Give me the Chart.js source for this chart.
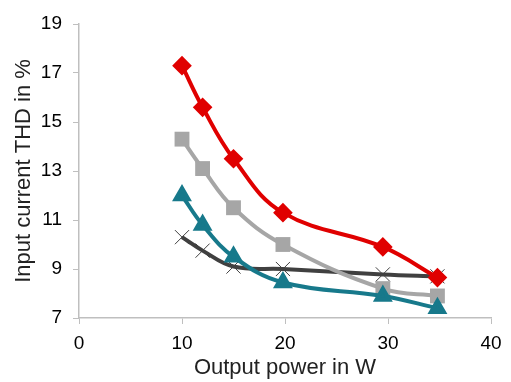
<!DOCTYPE html>
<html>
<head>
<meta charset="utf-8">
<script src="https://cdn.jsdelivr.net/npm/chart.js@4"></script>
<style>
  html, body { margin: 0; padding: 0; background: #fff; }
  #wrap { width: 511px; height: 382px; }
</style>
</head>
<body>
<div id="wrap"><canvas id="chart" width="511" height="382"></canvas></div>
<script>
// Output power (W) at each measurement point
const powerW = [10, 12, 15, 19.8, 29.5, 34.8];

// Input current THD (%) for each curve
const thdRed = [17.3, 15.6, 13.5, 11.3, 9.9, 8.65];
const thdGray = [14.3, 13.1, 11.5, 10.0, 8.2, 7.9];
const thdTeal = [12.0, 10.8, 9.5, 8.45, 7.9, 7.4];
const thdBlack = [10.3, 9.75, 9.1, 9.0, 8.78, 8.7];

const xTicks = [0, 10, 20, 30, 40];
const yTicks = [7, 9, 11, 13, 15, 17, 19];

const toPoints = (ys) => powerW.map((x, i) => ({ x, y: ys[i] }));

const axisColor = '#bfbfbf';
const tickFont = { family: 'Liberation Sans, Arial, sans-serif', size: 19 };
const titleFont = { family: 'Liberation Sans, Arial, sans-serif', size: 22 };

const ctx = document.getElementById('chart').getContext('2d');
new Chart(ctx, {
  type: 'line',
  data: {
    datasets: [
      {
        data: toPoints(thdRed),
        borderColor: '#e00000',
        backgroundColor: '#e00000',
        borderWidth: 4,
        pointStyle: 'rectRot',
        pointRadius: 7,
        tension: 0.4
      },
      {
        data: toPoints(thdTeal),
        borderColor: '#17798b',
        backgroundColor: '#17798b',
        borderWidth: 4,
        pointStyle: 'triangle',
        pointRadius: 7.5,
        tension: 0.4
      },
      {
        data: toPoints(thdGray),
        borderColor: '#a6a6a6',
        backgroundColor: '#a6a6a6',
        borderWidth: 4,
        pointStyle: 'rect',
        pointRadius: 10.5,
        pointBorderWidth: 0,
        tension: 0.4
      },
      {
        data: toPoints(thdBlack),
        borderColor: '#404040',
        backgroundColor: '#404040',
        borderWidth: 4,
        pointStyle: 'crossRot',
        pointRadius: 10,
        pointBorderWidth: 1,
        tension: 0.4
      }
    ]
  },
  options: {
    responsive: false,
    animation: false,
    layout: { padding: { top: 24, right: 20, left: 0, bottom: 0 } },
    plugins: {
      legend: { display: false },
      tooltip: { enabled: false }
    },
    scales: {
      x: {
        type: 'linear',
        min: 0,
        max: 40,
        afterBuildTicks: (axis) => { axis.ticks = xTicks.map(v => ({ value: v })); },
        afterFit: (axis) => { axis.height = 64; },
        ticks: { color: '#000', font: tickFont, padding: 8, maxRotation: 0 },
        grid: { drawOnChartArea: false, drawTicks: true, tickLength: 6, color: axisColor },
        border: { color: axisColor, width: 1.5 },
        title: {
          display: true,
          text: 'Output power in W',
          color: '#222',
          font: titleFont,
          padding: { top: 4, bottom: 1 }
        }
      },
      y: {
        min: 7,
        max: 19,
        afterBuildTicks: (axis) => { axis.ticks = yTicks.map(v => ({ value: v })); },
        afterFit: (axis) => { axis.width = 79; },
        ticks: { color: '#000', font: tickFont, padding: 11 },
        grid: { drawOnChartArea: false, drawTicks: true, tickLength: 6, color: axisColor },
        border: { color: axisColor, width: 1.5 },
        title: {
          display: true,
          text: 'Input current THD in %',
          color: '#222',
          font: titleFont,
          padding: { top: 11, bottom: 0 }
        }
      }
    }
  }
});
</script>
</body>
</html>
